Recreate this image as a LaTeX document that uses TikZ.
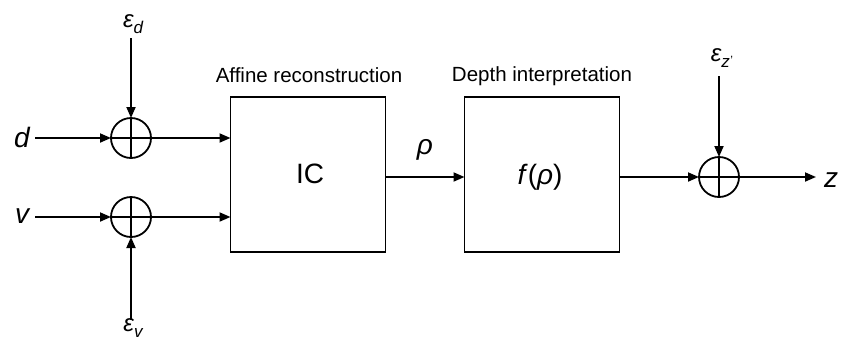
\documentclass[tikz,border=0pt]{standalone}
\usepackage{fontspec}
\setmainfont{Liberation Sans}
\usetikzlibrary{arrows.meta}
\begin{document}
\begin{tikzpicture}[x=1pt,y=-1pt,
  line width=1.8pt,
  arr/.style={-{Triangle[length=11pt,width=9pt]}},
  sumnode/.style={circle,draw,minimum size=40pt,inner sep=0pt,outer sep=0pt,
    path picture={\draw[line width=1.8pt] (path picture bounding box.north) -- (path picture bounding box.south)
      (path picture bounding box.west) -- (path picture bounding box.east);}},
  block/.style={draw,minimum width=155pt,minimum height=155pt,inner sep=0pt,outer sep=0pt},
  lbl/.style={inner sep=0pt,font=\fontsize{20.5}{24}\selectfont},
  big/.style={inner sep=0pt,font=\fontsize{28}{32}\selectfont},
  var/.style={inner sep=0pt,font=\fontsize{28}{32}\selectfont\itshape},
  eps/.style={inner sep=0pt,font=\fontsize{24}{28}\selectfont\itshape},
]
\useasboundingbox (0,0) rectangle (843,346);
\newcommand{\subsc}[1]{\raisebox{-6pt}{\fontsize{17}{20}\selectfont\itshape #1}}

\node[sumnode] (s1) at (131,138) {};
\node[sumnode] (s2) at (131,217) {};
\node[sumnode] (s3) at (719,177) {};

\node[block] (b1) at (308,174.5) {};
\node[block] (b2) at (542,174.5) {};

\node[big] (ic) at (310,174) {IC};
\node[big] (f) at (540,177) {\textit{f}(\textit{ρ})};
\node[var] (rho) at (425,150) {ρ};

\node[lbl] (t1) at (309,75) {Affine reconstruction};
\node[lbl] (t2) at (542,76) {Depth interpretation};

\node[var] (d) at (22,137) {d};
\node[var] (v) at (22,216) {v};
\node[var] (z) at (831,180.5) {z};

\node[eps] (ed) at (133,24) {ε\subsc{d}};
\node[eps] (ev) at (133,328) {ε\subsc{v}};
\node[eps] (ez) at (722,58) {ε\subsc{z\kern0.5pt\raisebox{3pt}{\fontsize{12}{12}\selectfont\upshape '}}};

\coordinate (ed0) at (131,38);
\coordinate (ev0) at (131,320);
\coordinate (ez0) at (719,76);
\coordinate (d0) at (35,138);
\coordinate (v0) at (35,217);
\coordinate (z0) at (816,177);

\draw[arr] (d0) -- (s1);
\draw[arr] (v0) -- (s2);
\draw[arr] (ed0) -- (s1);
\draw[arr] (ev0) -- (s2);
\draw[arr] (s1) -- (s1 -| b1.west);
\draw[arr] (s2) -- (s2 -| b1.west);
\draw[arr] (b1.east |- s3) -- (b2.west |- s3);
\draw[arr] (b2.east |- s3) -- (s3);
\draw[arr] (ez0) -- (s3);
\draw[arr] (s3) -- (z0);
\end{tikzpicture}
\end{document}
